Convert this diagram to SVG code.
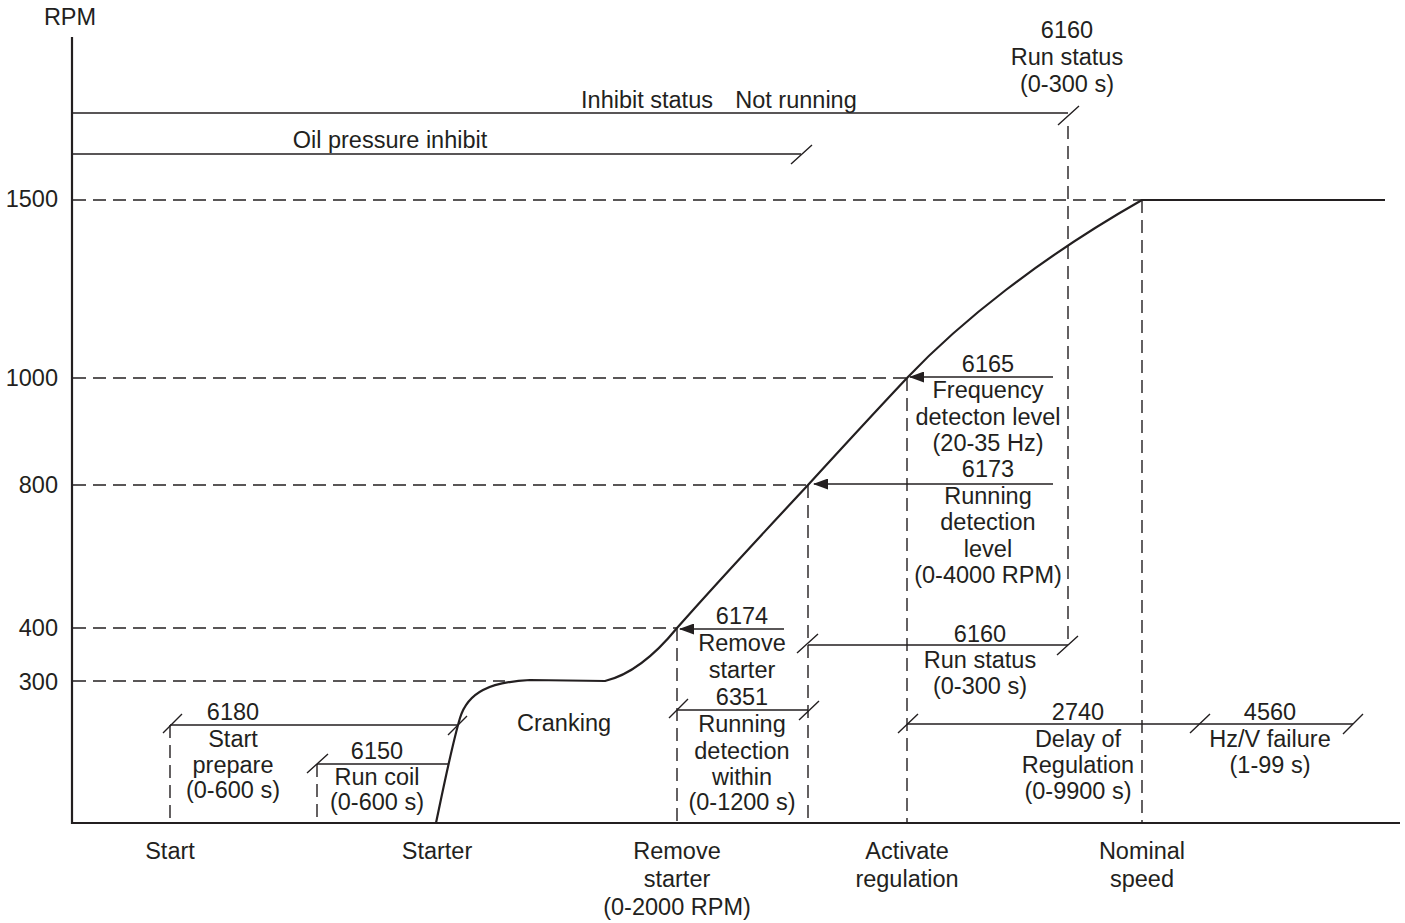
<svg xmlns="http://www.w3.org/2000/svg" width="1405" height="923" viewBox="0 0 1405 923">
<defs>
<marker id="arr" markerWidth="15" markerHeight="11" refX="14" refY="5.5" orient="auto" markerUnits="userSpaceOnUse"><path d="M0,0 L15,5.5 L0,11 z" fill="#231f20"/></marker>
</defs>
<style>
text{font-family:"Liberation Sans",Arial,sans-serif;font-size:23.5px;fill:#231f20;text-anchor:middle}
.r{text-anchor:end}
.ax{stroke:#231f20;stroke-width:2.2;fill:none}
.ln{stroke:#231f20;stroke-width:1.6;fill:none}
.ds{stroke:#231f20;stroke-width:1.4;stroke-dasharray:13 7;fill:none}
.cv{stroke:#231f20;stroke-width:2.2;fill:none}
.sl{stroke:#231f20;stroke-width:1.4;fill:none}
</style>
<rect width="1405" height="923" fill="#ffffff"/>

<g id="axes">
<path class="ax" d="M72,37 V823 H1400"/>
<text x="70" y="25">RPM</text>
<text class="r" x="58" y="207">1500</text>
<text class="r" x="58" y="386">1000</text>
<text class="r" x="58" y="493">800</text>
<text class="r" x="58" y="636">400</text>
<text class="r" x="58" y="690">300</text>
</g>

<g id="guides">
<path class="ds" d="M73,200 H1142 M73,378 H907 M73,485 H808 M73,628 H677 M73,681 H505"/>
<path class="ds" d="M1068,126 V645 M1142,200 V823 M907,378 V823 M808,485 V823 M677,628 V823 M170,725 V823 M317,764 V823"/>
</g>

<g id="curve">
<path class="cv" d="M436,823 C445,780 452,745 460,718 C468,692 490,682 530,680 L605,681 C630,675 655,655 677,628 C700,602 780,515 808,485 C840,450 875,412 907,378 C960,322 1040,258 1142,200 H1385"/>
</g>

<g id="connectors">
<path class="ln" d="M73,113 H1068 M73,154 H801"/>
<path class="ln" d="M170,725 H457 M317,764 H448 M677,710 H808 M808,645 H1068 M907,724 H1353"/>
<path class="ln" d="M784,629 H680" marker-end="url(#arr)"/>
<path class="ln" d="M1053,377 H910" marker-end="url(#arr)"/>
<path class="ln" d="M1053,484 H814" marker-end="url(#arr)"/>
<path class="sl" d="M1058,125 L1079,106 M791,164 L812,145 M163,733 L182,714 M448,735 L467,716 M307,773 L328,754 M669,718 L688,699 M799,720 L819,701 M797,653 L818,634 M1057,655 L1078,636 M898,733 L918,714 M1190,733 L1210,714 M1343,734 L1363,714"/>
</g>

<g id="inhibit">
<text x="647" y="108">Inhibit status</text>
<text x="796" y="108">Not running</text>
</g>
<g id="oil">
<text x="390" y="148">Oil pressure inhibit</text>
</g>
<g id="run-status-top">
<text x="1067" y="38">6160</text>
<text x="1067" y="65">Run status</text>
<text x="1067" y="92">(0-300 s)</text>
</g>
<g id="p6165">
<text x="988" y="372">6165</text>
<text x="988" y="398">Frequency</text>
<text x="988" y="425">detecton level</text>
<text x="988" y="451">(20-35 Hz)</text>
</g>
<g id="p6173">
<text x="988" y="477">6173</text>
<text x="988" y="504">Running</text>
<text x="988" y="530">detection</text>
<text x="988" y="557">level</text>
<text x="988" y="583">(0-4000 RPM)</text>
</g>
<g id="p6174">
<text x="742" y="624">6174</text>
<text x="742" y="651">Remove</text>
<text x="742" y="678">starter</text>
</g>
<g id="p6351">
<text x="742" y="705">6351</text>
<text x="742" y="732">Running</text>
<text x="742" y="759">detection</text>
<text x="742" y="785">within</text>
<text x="742" y="810">(0-1200 s)</text>
</g>
<g id="p6160">
<text x="980" y="642">6160</text>
<text x="980" y="668">Run status</text>
<text x="980" y="694">(0-300 s)</text>
</g>
<g id="p2740">
<text x="1078" y="720">2740</text>
<text x="1078" y="747">Delay of</text>
<text x="1078" y="773">Regulation</text>
<text x="1078" y="799">(0-9900 s)</text>
</g>
<g id="p4560">
<text x="1270" y="720">4560</text>
<text x="1270" y="747">Hz/V failure</text>
<text x="1270" y="773">(1-99 s)</text>
</g>
<g id="p6180">
<text x="233" y="720">6180</text>
<text x="233" y="747">Start</text>
<text x="233" y="773">prepare</text>
<text x="233" y="798">(0-600 s)</text>
</g>
<g id="p6150">
<text x="377" y="759">6150</text>
<text x="377" y="785">Run coil</text>
<text x="377" y="810">(0-600 s)</text>
</g>
<g id="cranking">
<text x="564" y="731">Cranking</text>
</g>
<g id="events">
<text x="170" y="859">Start</text>
<text x="437" y="859">Starter</text>
<text x="677" y="859">Remove</text>
<text x="677" y="887">starter</text>
<text x="677" y="915">(0-2000 RPM)</text>
<text x="907" y="859">Activate</text>
<text x="907" y="887">regulation</text>
<text x="1142" y="859">Nominal</text>
<text x="1142" y="887">speed</text>
</g>
</svg>
